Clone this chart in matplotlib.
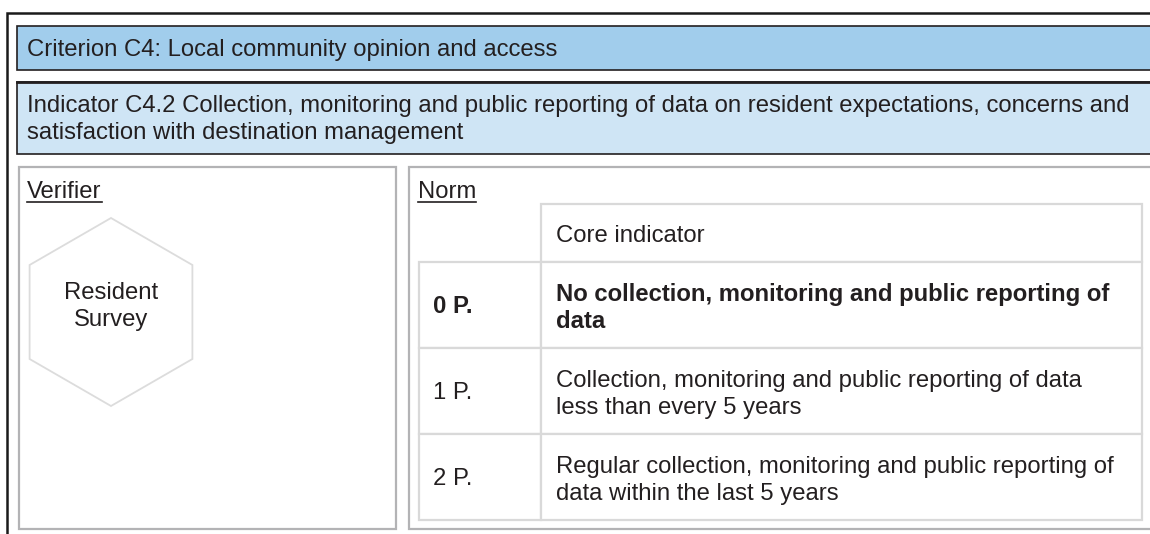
import matplotlib.pyplot as plt
from matplotlib.patches import Rectangle, RegularPolygon

plt.rcParams['font.family'] = ['Liberation Sans', 'DejaVu Sans']

# text content of the sheet
criterion = "Criterion C4: Local community opinion and access"
indicator_lines = ["Indicator C4.2 Collection, monitoring and public reporting of data on resident expectations, concerns and",
                   "satisfaction with destination management"]
verifier_title = "Verifier"
verifier_items = ["Resident", "Survey"]
norm_title = "Norm"
norm_header = "Core indicator"
points = ["0 P.", "1 P.", "2 P."]
descriptions = [["No collection, monitoring and public reporting of", "data"],
                ["Collection, monitoring and public reporting of data", "less than every 5 years"],
                ["Regular collection, monitoring and public reporting of", "data within the last 5 years"]]
bold_rows = [True, False, False]

ink = '#231f20'
fs = 17.2

fig = plt.figure(figsize=(11.5, 5.34), dpi=100)
ax = fig.add_axes([0, 0, 1, 1])
ax.set_xlim(0, 1150)
ax.set_ylim(534, 0)
ax.axis('off')

# outer frame (right/bottom cut off)
ax.plot([7, 7, 1160], [540, 13, 13], color='#1a1a1a', lw=1.8, solid_joinstyle='miter')

# criterion bar
ax.add_patch(Rectangle((17, 26), 1150, 44, facecolor='#a1cdec', edgecolor=ink, lw=1.2))
ax.text(27, 56, criterion, fontsize=fs, color=ink, va='baseline')

# indicator bar
ax.add_patch(Rectangle((17, 82), 1150, 72, facecolor='#cfe5f5', edgecolor=ink, lw=1.2))
ax.plot([17, 1160], [82, 82], color=ink, lw=2.0)
for i, line in enumerate(indicator_lines):
    ax.text(27, 112 + 27 * i, line, fontsize=fs, color=ink, va='baseline')

# verifier and norm boxes
box_col = '#b3b3b5'
ax.add_patch(Rectangle((19, 167), 377, 362, facecolor='white', edgecolor=box_col, lw=1.6))
ax.add_patch(Rectangle((409, 167), 760, 362, facecolor='white', edgecolor=box_col, lw=1.6))

fig.canvas.draw()
renderer = fig.canvas.get_renderer()


def underlined(x, y, s):
    t = ax.text(x, y, s, fontsize=fs, color=ink, va='baseline')
    bb = t.get_window_extent(renderer).transformed(ax.transData.inverted())
    ax.plot([bb.x0, bb.x1], [y + 4, y + 4], color=ink, lw=1.2)


underlined(27, 198, verifier_title)
underlined(418, 198, norm_title)

# hexagon with verifier
ax.add_patch(RegularPolygon((111, 312), numVertices=6, radius=94, orientation=0,
                            facecolor='white', edgecolor='#dcdcdc', lw=1.3))
for i, s in enumerate(verifier_items):
    ax.text(111, 299 + 27 * i, s, fontsize=fs, color=ink, ha='center', va='baseline')

# inner norm table
grid = '#d9d9d9'
col0, col1, col2 = 419, 541, 1142
row_edges = [204, 262, 348, 434, 520]
ax.add_patch(Rectangle((col1, row_edges[0]), col2 - col1, row_edges[1] - row_edges[0],
                       facecolor='white', edgecolor=grid, lw=1.6))
ax.text(556, 242, norm_header, fontsize=fs, color=ink, va='baseline')
for i, (p, desc, b) in enumerate(zip(points, descriptions, bold_rows)):
    top, bot = row_edges[i + 1], row_edges[i + 2]
    mid = (top + bot) / 2
    w = 'bold' if b else 'normal'
    ax.add_patch(Rectangle((col0, top), col1 - col0, bot - top, facecolor='white', edgecolor=grid, lw=1.6))
    ax.add_patch(Rectangle((col1, top), col2 - col1, bot - top, facecolor='white', edgecolor=grid, lw=1.6))
    ax.text(433, mid + 8, p, fontsize=fs, color=ink, va='baseline', fontweight=w)
    for j, line in enumerate(desc):
        ax.text(556, mid - 4 + 27 * j, line, fontsize=fs, color=ink, va='baseline', fontweight=w)

fig.savefig('out.png', dpi=100)
